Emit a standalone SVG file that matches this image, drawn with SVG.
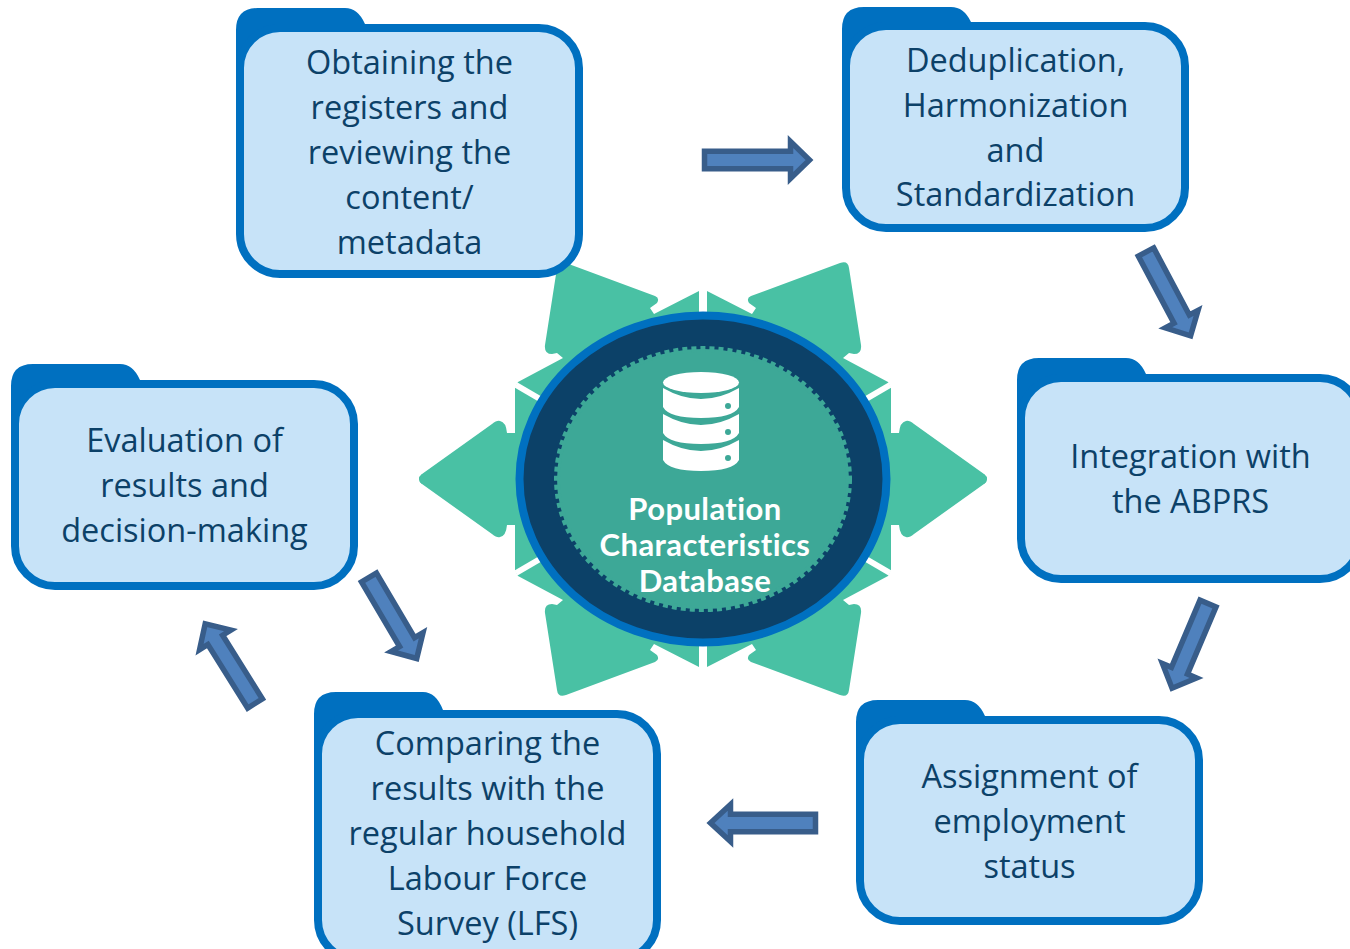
<svg xmlns="http://www.w3.org/2000/svg" xmlns:xlink="http://www.w3.org/1999/xlink" width="1350" height="949" viewBox="0 0 1350 949">
<style>
.tab{fill:#0070c0}
.box{fill:#c7e3f8;stroke:#0070c0;stroke-width:8}
.t{font-family:"Open Sans","Noto Sans",sans-serif;font-size:32.5px;fill:#0c4168;text-anchor:middle}
.c{font-family:Lato,"Noto Sans",sans-serif;font-weight:700;font-size:31px;letter-spacing:.4px;font-variant-ligatures:none;fill:#fff;text-anchor:middle}
.ar{fill:#4f81bd;stroke:#385d8a;stroke-width:5.500;stroke-miterlimit:10}
.star{fill:#49c1a4}
.w{stroke:#fff;stroke-width:6;fill:none}
</style>
<defs>
<g id="q">
<path class="star" d="M699 479V291L654 314L650 308L657 303Q660 298 655 296L566 263Q558 260 557 268L545 345Q544 354 552 354L557 353L563 358L518 382L515 388V433H507Q506 422 500 421Q497 420 492 424L422 474Q416 479 422 484L424 479Z"/>
<path class="w" d="M516 385L540 399"/>
</g>
</defs>
<g id="hub">
<use xlink:href="#q"/>
<use xlink:href="#q" transform="matrix(-1 0 0 1 1406 0)"/>
<use xlink:href="#q" transform="matrix(1 0 0 -1 0 958)"/>
<use xlink:href="#q" transform="matrix(-1 0 0 -1 1406 958)"/>
<ellipse cx="703" cy="479" rx="183.500" ry="163.500" fill="#0c4168" stroke="#0070c0" stroke-width="8"/>
<ellipse cx="703" cy="479" rx="146" ry="130" fill="#3da897" stroke="#3da897" stroke-width="6" stroke-dasharray="5 4"/>
<g fill="#fff">
<ellipse cx="701" cy="382.500" rx="38" ry="10.500"/>
<path d="M663 388Q701 410 739 388V407Q733 418 701 418Q669 418 663 407Z"/>
<path d="M663 414Q701 436 739 414V433Q733 444 701 444Q669 444 663 433Z"/>
<path d="M663 440Q701 462 739 440V460Q733 471 701 471Q669 471 663 460Z"/>
</g>
<g fill="#3da897"><circle cx="728" cy="406" r="3"/><circle cx="728" cy="432" r="3"/><circle cx="728" cy="458" r="3"/></g>
<text class="c" x="705" y="520">Population</text>
<text class="c" x="705" y="556">Characteristics</text>
<text class="c" x="705" y="592">Database</text>
</g>
<g id="connectors">
<path class="ar" transform="translate(704.500 160)" d="M0 -8.700H86V-18.500L105 0L86 18.500V8.700H0Z"/>
<path class="ar" transform="translate(1146 252) rotate(62)" d="M0 -8.700H76V-18.500L95 0L76 18.500V8.700H0Z"/>
<path class="ar" transform="translate(1208 603.500) rotate(113)" d="M0 -8.700H73V-18.500L92 0L73 18.500V8.700H0Z"/>
<path class="ar" transform="translate(815.500 823) rotate(180)" d="M0 -8.700H85V-18.500L105 0L85 18.500V8.700H0Z"/>
<path class="ar" transform="translate(255 703.500) rotate(-122)" d="M0 -8.700H75V-18.500L94 0L75 18.500V8.700H0Z"/>
<path class="ar" transform="translate(369 577.500) rotate(59.500)" d="M0 -8.700H75V-18.500L94 0L75 18.500V8.700H0Z"/>
</g>
<g id="node1">
<path class="tab" d="M236 100V30Q236 8 258 8H345Q358 8 365 24H420V100Z"/>
<rect class="box" x="240" y="28" width="339" height="246" rx="40"/>
<text class="t" x="409.500" y="74">Obtaining the</text>
<text class="t" x="409.500" y="119">registers and</text>
<text class="t" x="409.500" y="164">reviewing the</text>
<text class="t" x="409.500" y="209">content/</text>
<text class="t" x="409.500" y="254">metadata</text>
</g>
<g id="node2">
<path class="tab" d="M842 100V29Q842 7 864 7H951Q964 7 971 22H1026V100Z"/>
<rect class="box" x="846" y="26" width="339" height="202" rx="40"/>
<text class="t" x="1015.500" y="72">Deduplication,</text>
<text class="t" x="1015.500" y="117">Harmonization</text>
<text class="t" x="1015.500" y="162">and</text>
<text class="t" x="1015.500" y="206">Standardization</text>
</g>
<g id="node3">
<path class="tab" d="M1017 450V380Q1017 358 1039 358H1126Q1139 358 1146 374H1201V450Z"/>
<rect class="box" x="1021" y="378" width="339" height="201" rx="40"/>
<text class="t" x="1190.500" y="468">Integration with</text>
<text class="t" x="1190.500" y="513">the ABPRS</text>
</g>
<g id="node4">
<path class="tab" d="M856 790V722Q856 700 878 700H965Q978 700 985 716H1040V790Z"/>
<rect class="box" x="860" y="720" width="339" height="201" rx="40"/>
<text class="t" x="1029.500" y="788">Assignment of</text>
<text class="t" x="1029.500" y="833">employment</text>
<text class="t" x="1029.500" y="878">status</text>
</g>
<g id="node5">
<path class="tab" d="M314 790V714Q314 692 336 692H423Q436 692 443 710H498V790Z"/>
<rect class="box" x="318" y="714" width="339" height="246" rx="40"/>
<text class="t" x="487.500" y="755">Comparing the</text>
<text class="t" x="487.500" y="800">results with the</text>
<text class="t" x="487.500" y="845">regular household</text>
<text class="t" x="487.500" y="890">Labour Force</text>
<text class="t" x="487.500" y="935">Survey (LFS)</text>
</g>
<g id="node6">
<path class="tab" d="M11 460V386Q11 364 33 364H120Q133 364 140 380H195V460Z"/>
<rect class="box" x="15" y="384" width="339" height="202" rx="40"/>
<text class="t" x="184.500" y="452">Evaluation of</text>
<text class="t" x="184.500" y="497">results and</text>
<text class="t" x="184.500" y="542">decision-making</text>
</g>
</svg>
